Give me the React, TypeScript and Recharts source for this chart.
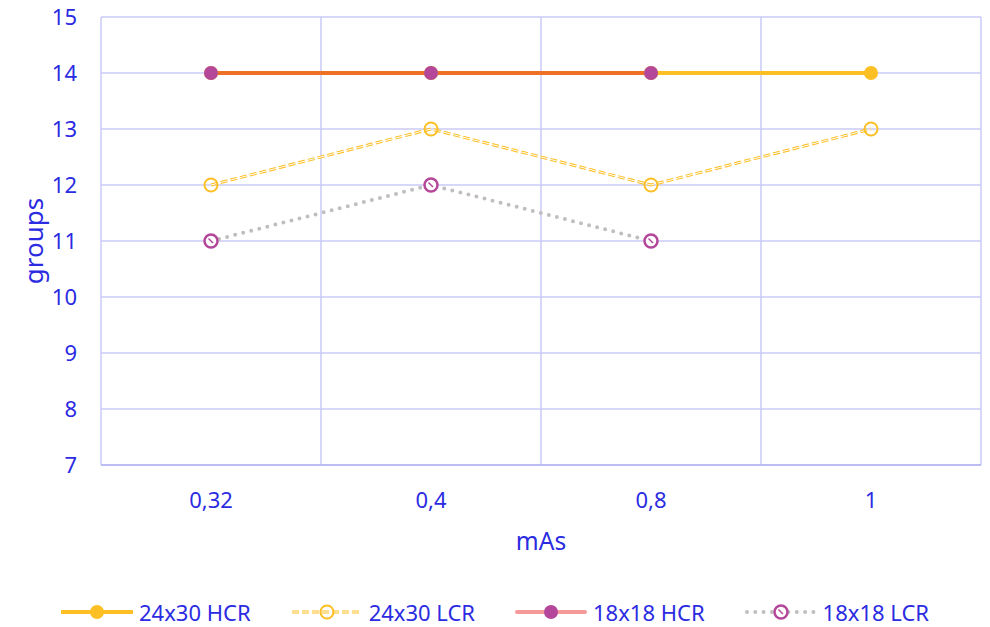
import { LineChart, Line, XAxis, YAxis, CartesianGrid, Label } from 'recharts'

const categories = ['0,32', '0,4', '0,8', '1']
const hcr2430 = [14, 14, 14, 14]
const lcr2430 = [12, 13, 12, 13]
const hcr1818: (number | null)[] = [14, 14, 14, null]
const lcr1818: (number | null)[] = [11, 12, 11, null]
const yTicks = [7, 8, 9, 10, 11, 12, 13, 14, 15]

const TEXT = '#2b2be2'
const GRID = '#cacaf7'
const YELLOW = '#fcbf24'
const ORANGE = '#ef7027'
const PINK = '#f49a9a'
const PURPLE = '#b4479a'
const GREY = '#bfbfbf'
const FONT = '"Noto Sans", "Open Sans", sans-serif'

const data = categories.map((cat, i) => ({
  cat,
  hcr2430: hcr2430[i],
  lcr2430: lcr2430[i],
  hcr1818: hcr1818[i],
  lcr1818: lcr1818[i],
}))

// hollow ring used by the 18x18 LCR markers, with a small hatch inside
function HatchDot(props: any) {
  const { cx, cy, index } = props
  if (cx == null || cy == null) return null
  return (
    <g key={`hd-${index}`}>
      <circle cx={cx} cy={cy} r={6.5} fill="#fff" stroke={PURPLE} strokeWidth={2.5} />
      <line x1={cx - 2.5} y1={cy - 2.5} x2={cx + 2} y2={cy + 2} stroke={PURPLE} strokeWidth={1.5} />
    </g>
  )
}

// vertical grid lines sit on the category band edges, not the centres
function boundaryLines(args: any) {
  const s = args?.xAxis?.scale
  if (typeof s === 'function' && typeof s.bandwidth === 'function') {
    const bw = s.bandwidth()
    return [...categories.map((c) => s(c)), s(categories[categories.length - 1]) + bw]
  }
  const off = args.offset
  const step = off.width / categories.length
  return categories.map((_, i) => off.left + i * step).concat(off.left + off.width)
}

const legendItems = [
  { name: '24x30 HCR', kind: 'hcr2430' },
  { name: '24x30 LCR', kind: 'lcr2430' },
  { name: '18x18 HCR', kind: 'hcr1818' },
  { name: '18x18 LCR', kind: 'lcr1818' },
]

function LegendIcon({ kind }: { kind: string }) {
  return (
    <svg width={72} height={20} style={{ display: 'block' }}>
      {kind === 'hcr2430' && (
        <>
          <line x1={1} y1={10} x2={71} y2={10} stroke={YELLOW} strokeWidth={4} strokeLinecap="round" />
          <circle cx={36} cy={10} r={7} fill={YELLOW} />
        </>
      )}
      {kind === 'lcr2430' && (
        <>
          <line x1={1} y1={10} x2={71} y2={10} stroke={YELLOW} strokeWidth={3} strokeDasharray="7 3" />
          <line x1={1} y1={10} x2={71} y2={10} stroke="#fff" strokeWidth={1} strokeDasharray="7 3" />
          <circle cx={36} cy={10} r={6.5} fill="none" stroke={YELLOW} strokeWidth={2} />
        </>
      )}
      {kind === 'hcr1818' && (
        <>
          <line x1={2} y1={10} x2={70} y2={10} stroke={PINK} strokeWidth={4} strokeLinecap="round" />
          <circle cx={36} cy={10} r={7} fill={PURPLE} />
        </>
      )}
      {kind === 'lcr1818' && (
        <>
          <line x1={2} y1={10} x2={70} y2={10} stroke={GREY} strokeWidth={4} strokeLinecap="round" strokeDasharray="0 8.3" />
          <HatchDot cx={36} cy={10} index={0} />
        </>
      )}
    </svg>
  )
}

function App() {
  return (
    <div style={{ position: 'absolute', left: 0, top: 0, width: 990, height: 627, background: '#fff', fontFamily: FONT }}>
      <LineChart width={990} height={627} data={data} margin={{ top: 17, right: 9, bottom: 0, left: 0 }}>
        <CartesianGrid stroke={GRID} strokeWidth={1.5} verticalCoordinatesGenerator={boundaryLines} />
        <XAxis
          dataKey="cat"
          scale="band"
          height={162}
          tickSize={0}
          tickMargin={27}
          axisLine={{ stroke: '#b4b4f2', strokeWidth: 1.5 }}
          tick={{ fill: TEXT, fontSize: 22, fontFamily: FONT }}
        >
          <Label value="mAs" position="insideTop" offset={68} fill={TEXT} fontSize={24.5} fontFamily={FONT} />
        </XAxis>
        <YAxis
          domain={[7, 15]}
          ticks={yTicks}
          width={101}
          tickSize={0}
          tickMargin={24}
          axisLine={false}
          tick={{ fill: TEXT, fontSize: 22, fontFamily: FONT }}
        >
          <Label
            content={(props: any) => {
              const vb = props.viewBox || { x: 0, y: 17, height: 448 }
              const cx = vb.x + 33
              const cy = vb.y + vb.height / 2
              return (
                <text x={cx} y={cy} transform={`rotate(-90 ${cx} ${cy})`} textAnchor="middle" dominantBaseline="central" fill={TEXT} fontSize={26} fontFamily={FONT}>
                  groups
                </text>
              )
            }}
          />
        </YAxis>
        <Line
          dataKey="hcr2430"
          stroke={YELLOW}
          strokeWidth={4}
          dot={{ r: 7, fill: YELLOW, stroke: 'none' }}
          isAnimationActive={false}
        />
        <Line dataKey="lcr2430" stroke={YELLOW} strokeWidth={3} strokeDasharray="7 3" dot={false} isAnimationActive={false} />
        <Line
          dataKey="lcr2430"
          stroke="#fff"
          strokeWidth={1}
          strokeDasharray="7 3"
          dot={{ r: 6.5, fill: 'none', stroke: YELLOW, strokeWidth: 2, strokeDasharray: '' }}
          isAnimationActive={false}
        />
        <Line
          dataKey="hcr1818"
          stroke={ORANGE}
          strokeWidth={4}
          dot={{ r: 7, fill: PURPLE, stroke: 'none' }}
          isAnimationActive={false}
        />
        <Line
          dataKey="lcr1818"
          stroke={GREY}
          strokeWidth={4}
          strokeLinecap="round"
          strokeDasharray="0 8.3"
          dot={<HatchDot />}
          isAnimationActive={false}
        />
      </LineChart>
      <div style={{ position: 'absolute', left: 0, top: 600, width: 990, display: 'flex', justifyContent: 'center', gap: 40, alignItems: 'center' }}>
        {legendItems.map((it) => (
          <div key={it.name} style={{ display: 'flex', alignItems: 'center', gap: 6 }}>
            <LegendIcon kind={it.kind} />
            <span style={{ color: TEXT, fontSize: 22, lineHeight: '24px' }}>{it.name}</span>
          </div>
        ))}
      </div>
    </div>
  )
}

export default App
